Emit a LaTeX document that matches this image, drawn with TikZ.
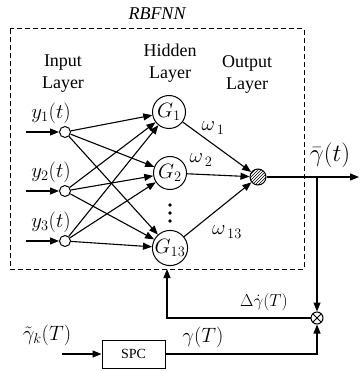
\documentclass[tikz,border=0pt]{standalone}
\usepackage{fontspec}
\setmainfont{Liberation Serif}
\usetikzlibrary{arrows.meta,patterns}
\begin{document}
\begin{tikzpicture}[x=1pt,y=-1pt,
  >={Triangle[length=9pt,width=7pt]},
  conn/.style={->,line width=1.1pt},
  inp/.style={circle,draw,line width=1pt,minimum size=11pt,inner sep=0pt},
  hid/.style={circle,draw,line width=1pt,minimum size=33pt,inner sep=0pt,font=\fontsize{22}{26}\selectfont},
  lbl/.style={font=\fontsize{18}{22}\selectfont,align=center,inner sep=0pt},
  mlbl/.style={font=\fontsize{20}{24}\selectfont,inner sep=0pt},
  dotst/.style={circle,fill,inner sep=0pt,minimum size=3.6pt}
]
\useasboundingbox (0,0) rectangle (361,371);

% dashed RBFNN box
\draw[line width=1pt,dash pattern=on 5pt off 3pt] (10,29) rectangle (304,269);
\node[lbl,font=\fontsize{18}{22}\selectfont\itshape] (title) at (157,14) {RBFNN};

% layer labels
\node[lbl] (linp) at (63,74) {Input\\Layer};
\node[lbl] (lhid) at (170,63) {Hidden\\Layer};
\node[lbl] (lout) at (247,74) {Output\\Layer};

% input nodes
\node[inp] (x1) at (65,132) {};
\node[inp] (x2) at (65,191) {};
\node[inp] (x3) at (65,241) {};
\coordinate (i1) at (26,132);
\coordinate (i2) at (26,191);
\coordinate (i3) at (26,241);
\draw[conn] (i1) -- (x1);
\draw[conn] (i2) -- (x2);
\draw[conn] (i3) -- (x3);
\node[mlbl] (ly1) at (51,113) {$y_1(t)$};
\node[mlbl] (ly2) at (51,172) {$y_2(t)$};
\node[mlbl] (ly3) at (51,222) {$y_3(t)$};

% hidden nodes
\node[hid] (g1) at (169,112) {$G_1$};
\node[hid] (g2) at (170,173) {$G_2$};
\node[hid] (g13) at (170,248) {$G_{13}$};
\node[dotst] (d1) at (170,205) {};
\node[dotst] (d2) at (170,213) {};
\node[dotst] (d3) at (170,221) {};

\foreach \a in {x1,x2,x3}{
  \foreach \b in {g1,g2,g13}{
    \draw[conn] (\a) -- (\b);
  }
}

% output node
\node[circle,draw,line width=1pt,minimum size=16pt,inner sep=0pt,pattern=north east lines] (out) at (258,177) {};
\draw[conn] (g1) -- (out);
\draw[conn] (g2) -- (out);
\draw[conn] (g13) -- (out);
\node[mlbl] (w1) at (213,128) {$\omega_{\,1}$};
\node[mlbl] (w2) at (201,160) {$\omega_{\,2}$};
\node[mlbl] (w13) at (227,232) {$\omega_{\,13}$};

% output line
\coordinate (tap) at (317,177);
\coordinate (oend) at (359,177);
\draw[conn] (out) -- (oend);
\node[mlbl,font=\fontsize{23}{26}\selectfont] (lgb) at (330,155) {$\bar{\gamma}(t)$};

% multiplier
\node[circle,draw,line width=1pt,minimum size=12pt,inner sep=0pt,
  path picture={\draw[line width=0.9pt] (path picture bounding box.south west) -- (path picture bounding box.north east)
  (path picture bounding box.north west) -- (path picture bounding box.south east);}] (mul) at (317,318) {};
\draw[conn] (tap) -- (mul);

% feedback
\coordinate (fbend) at (167,269);
\draw[conn] (mul.west) -| (fbend);
\node[mlbl,font=\fontsize{19}{22}\selectfont] (ldg) at (264,302) {$\Delta\dot{\gamma}(T)$};

% SPC
\node[draw,line width=1pt,minimum width=63pt,minimum height=28pt,inner sep=0pt,font=\fontsize{14}{16}\selectfont] (spc) at (133.5,354) {\raisebox{-6pt}{SPC}};
\coordinate (gin) at (62,354);
\draw[conn] (gin) -- (spc.west);
\node[mlbl,font=\fontsize{21}{24}\selectfont] (lgt) at (47,335) {$\tilde{\gamma}_k(T)$};
\draw[conn] (spc.east) -| (mul.south);
\node[mlbl] (lg) at (203,337) {$\gamma(T)$};
\end{tikzpicture}
\end{document}
